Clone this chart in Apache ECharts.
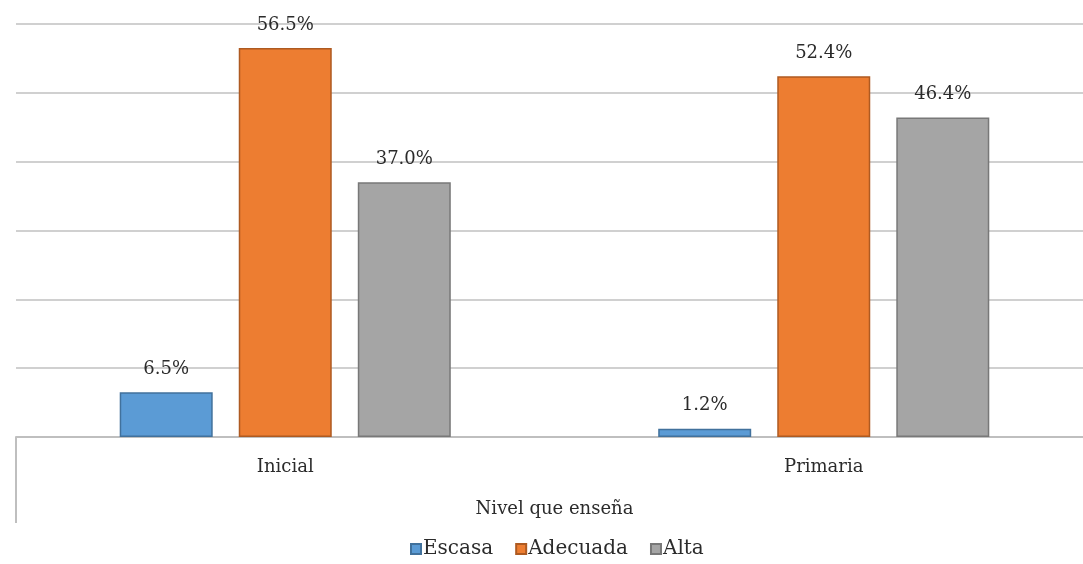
<!DOCTYPE html>
<html>
<head>
<meta charset="utf-8">
<script src="https://cdn.jsdelivr.net/npm/echarts@6/dist/echarts.min.js"></script>
<style>html,body{margin:0;padding:0;background:#fff;}#c{width:1083px;height:564px;}</style>
</head>
<body>
<div id="c"></div>
<script>
const categories = ['Inicial', 'Primaria'];
const seriesNames = ['Escasa', 'Adecuada', 'Alta'];
const escasa = [6.5, 1.2];
const adecuada = [56.5, 52.4];
const alta = [37.0, 46.4];
const axisTitle = 'Nivel que enseña';

const colors = ['#5b9bd5', '#ed7d31', '#a5a5a5'];
const borders = ['#41719c', '#ae5a21', '#787878'];
const FONT = 'DejaVu Serif';
const TXT = '#2b2b2b';
const values = [escasa, adecuada, alta];

const chart = echarts.init(document.getElementById('c'));
chart.setOption({
  animation: false,
  backgroundColor: '#fff',
  grid: { left: 16, right: -10, top: 24, bottom: 127, outerBoundsMode: 'none', containLabel: false },
  legend: {
    bottom: 0, left: 405,
    itemWidth: 10, itemHeight: 10, itemGap: 22,
    icon: 'rect',
    textStyle: { fontFamily: FONT, fontSize: 20, color: TXT, padding: [0, 0, 0, -3] },
    data: seriesNames
  },
  xAxis: {
    type: 'category', data: categories,
    axisLine: { lineStyle: { color: '#bfbfbf', width: 2 } },
    axisTick: { show: true, length: 86, interval: function (i) { return i === 0; }, lineStyle: { color: '#bfbfbf', width: 2 } },
    axisLabel: { fontFamily: FONT, fontSize: 18, color: TXT, margin: 21 },
    name: axisTitle, nameLocation: 'middle', nameGap: 63,
    nameTextStyle: { fontFamily: FONT, fontSize: 18, color: TXT }
  },
  yAxis: {
    type: 'value', min: 0, max: 60, interval: 10,
    axisLabel: { show: false }, axisLine: { show: false }, axisTick: { show: false },
    splitLine: { lineStyle: { color: '#d0d0d0', width: 2 } }
  },
  series: seriesNames.map((n, k) => ({
    name: n, type: 'bar', data: values[k],
    barWidth: 93, barGap: '28%',
    itemStyle: { color: colors[k], borderColor: borders[k], borderWidth: 1.5 },
    label: {
      show: true, position: 'top', distance: 14,
      formatter: p => p.value.toFixed(1) + '%',
      fontFamily: FONT, fontSize: 18, color: TXT
    }
  }))
});
</script>
</body>
</html>
